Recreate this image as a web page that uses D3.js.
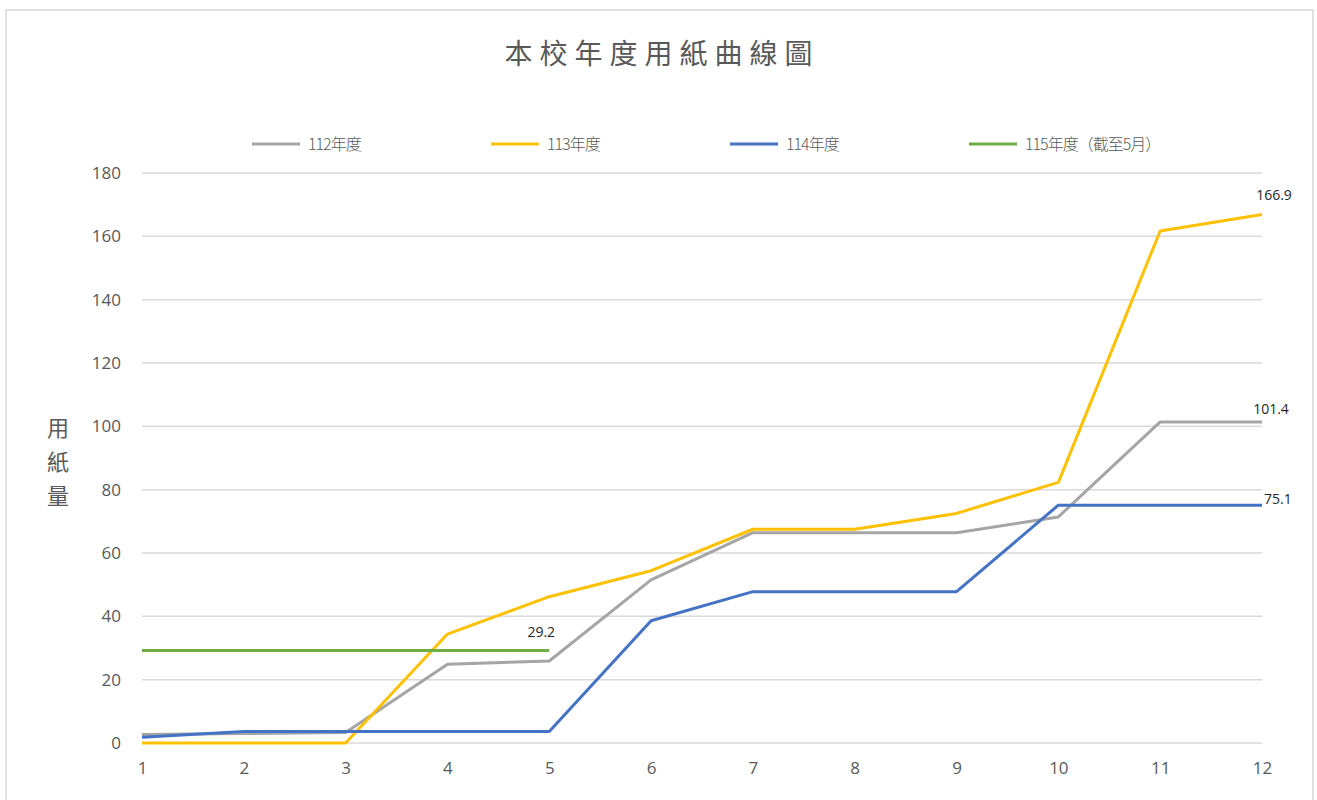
<!DOCTYPE html>
<html>
<head>
<meta charset="utf-8">
<script src="https://cdn.jsdelivr.net/npm/d3@7"></script>
<style>
  body { margin: 0; background: #fff; }
  svg { display: block; }
</style>
</head>
<body>
<div id="chart"></div>
<script>
"use strict";

var months = [1, 2, 3, 4, 5, 6, 7, 8, 9, 10, 11, 12];
var yTicks = [0, 20, 40, 60, 80, 100, 120, 140, 160, 180];
var seriesNames = ["112年度", "113年度", "114年度", "115年度（截至5月）"];
var y112 = [2.7, 3.0, 3.3, 24.9, 25.9, 51.5, 66.4, 66.4, 66.4, 71.4, 101.4, 101.4];
var y113 = [0, 0, 0, 34.4, 46.2, 54.4, 67.5, 67.5, 72.5, 82.3, 161.7, 166.9];
var y114 = [1.8, 3.6, 3.6, 3.6, 3.6, 38.6, 47.8, 47.8, 47.8, 75.1, 75.1, 75.1];
var y115 = [29.2, 29.2, 29.2, 29.2, 29.2];
var colors = ["#A5A5A5", "#FFC000", "#4472C4", "#70AD47"];

var width = 1317, height = 800;
var numFont = "'Open Sans', 'Noto Sans', sans-serif";
var svg = d3.select("#chart").append("svg")
  .attr("width", width).attr("height", height);

// chart frame
svg.append("rect").attr("x", 6).attr("y", 10).attr("width", 1307).attr("height", 800)
  .attr("fill", "#fff").attr("stroke", "#d9d9d9").attr("stroke-width", 1.5);

var x = d3.scaleLinear().domain([1, 12]).range([142, 1262]);
var y = d3.scaleLinear().domain([0, 180]).range([743, 173]);

// gridlines
svg.append("g").selectAll("line").data(yTicks).enter().append("line")
  .attr("x1", x(1)).attr("x2", x(12))
  .attr("y1", function (d) { return y(d); }).attr("y2", function (d) { return y(d); })
  .attr("stroke", "#d9d9d9").attr("stroke-width", 1.5);

// y axis labels
var yAxis = d3.axisLeft(y).tickValues(yTicks).tickSize(0).tickPadding(21);
var gy = svg.append("g").attr("transform", "translate(" + x(1) + ",0)").call(yAxis);
gy.select(".domain").remove();
gy.selectAll("text").attr("fill", "#595959").style("font-family", numFont).style("font-size", "17px");

// x axis labels
var xAxis = d3.axisBottom(x).tickValues(months).tickSize(0).tickPadding(19).tickFormat(d3.format("d"));
var gx = svg.append("g").attr("transform", "translate(0," + y(0) + ")").call(xAxis);
gx.select(".domain").remove();
gx.selectAll("text").attr("fill", "#595959").style("font-family", numFont).style("font-size", "17px");

// lines
var data = [y112, y113, y114, y115];
var line = d3.line().x(function (d, i) { return x(months[i]); }).y(function (d) { return y(d); });
svg.append("g").selectAll("path").data(data).enter().append("path")
  .attr("d", line)
  .attr("fill", "none")
  .attr("stroke", function (d, i) { return colors[i]; })
  .attr("stroke-width", 3)
  .attr("stroke-linejoin", "round");

// data labels
var labels = [
  { v: y115[4], m: 5, dx: -8, dy: -14, anchor: "middle" },
  { v: y113[11], m: 12, dx: 12, dy: -14, anchor: "middle" },
  { v: y112[11], m: 12, dx: 9, dy: -8, anchor: "middle" },
  { v: y114[11], m: 12, dx: 2, dy: -1, anchor: "start" }
];
svg.append("g").selectAll("text").data(labels).enter().append("text")
  .attr("x", function (d) { return x(d.m) + d.dx; })
  .attr("y", function (d) { return y(d.v) + d.dy; })
  .attr("text-anchor", function (d) { return d.anchor; })
  .attr("fill", "#262626")
  .style("font-family", numFont)
  .style("font-size", "14px")
  .text(function (d) { return d3.format(".1f")(d.v); });

// legend
var legendX = [252, 491, 730, 969];
var legend = svg.append("g").selectAll("g").data(seriesNames).enter().append("g")
  .attr("transform", function (d, i) { return "translate(" + legendX[i] + ",144)"; });
legend.append("line").attr("x1", 0).attr("x2", 48).attr("y1", 0).attr("y2", 0)
  .attr("stroke", function (d, i) { return colors[i]; }).attr("stroke-width", 3);
legend.append("text").attr("x", 56).attr("y", 6)
  .attr("fill", "#595959")
  .style("font-family", "'Noto Sans CJK TC', sans-serif")
  .style("font-size", "16px")
  .style("font-weight", 300)
  .style("letter-spacing", "-1px")
  .text(function (d) { return d; });

// title
svg.append("text").attr("x", 662).attr("y", 64)
  .attr("text-anchor", "middle")
  .attr("fill", "#595959")
  .style("font-family", "'Noto Sans CJK TC', sans-serif")
  .style("font-size", "28px")
  .style("letter-spacing", "7px")
  .text("本校年度用紙曲線圖");

// y axis title, stacked vertical
var yTitle = ["用", "紙", "量"];
svg.append("g").selectAll("text").data(yTitle).enter().append("text")
  .attr("x", 58).attr("y", function (d, i) { return 436 + i * 34; })
  .attr("text-anchor", "middle")
  .attr("fill", "#595959")
  .style("font-family", "'Noto Sans CJK TC', sans-serif")
  .style("font-size", "22px")
  .text(function (d) { return d; });
</script>
</body>
</html>
